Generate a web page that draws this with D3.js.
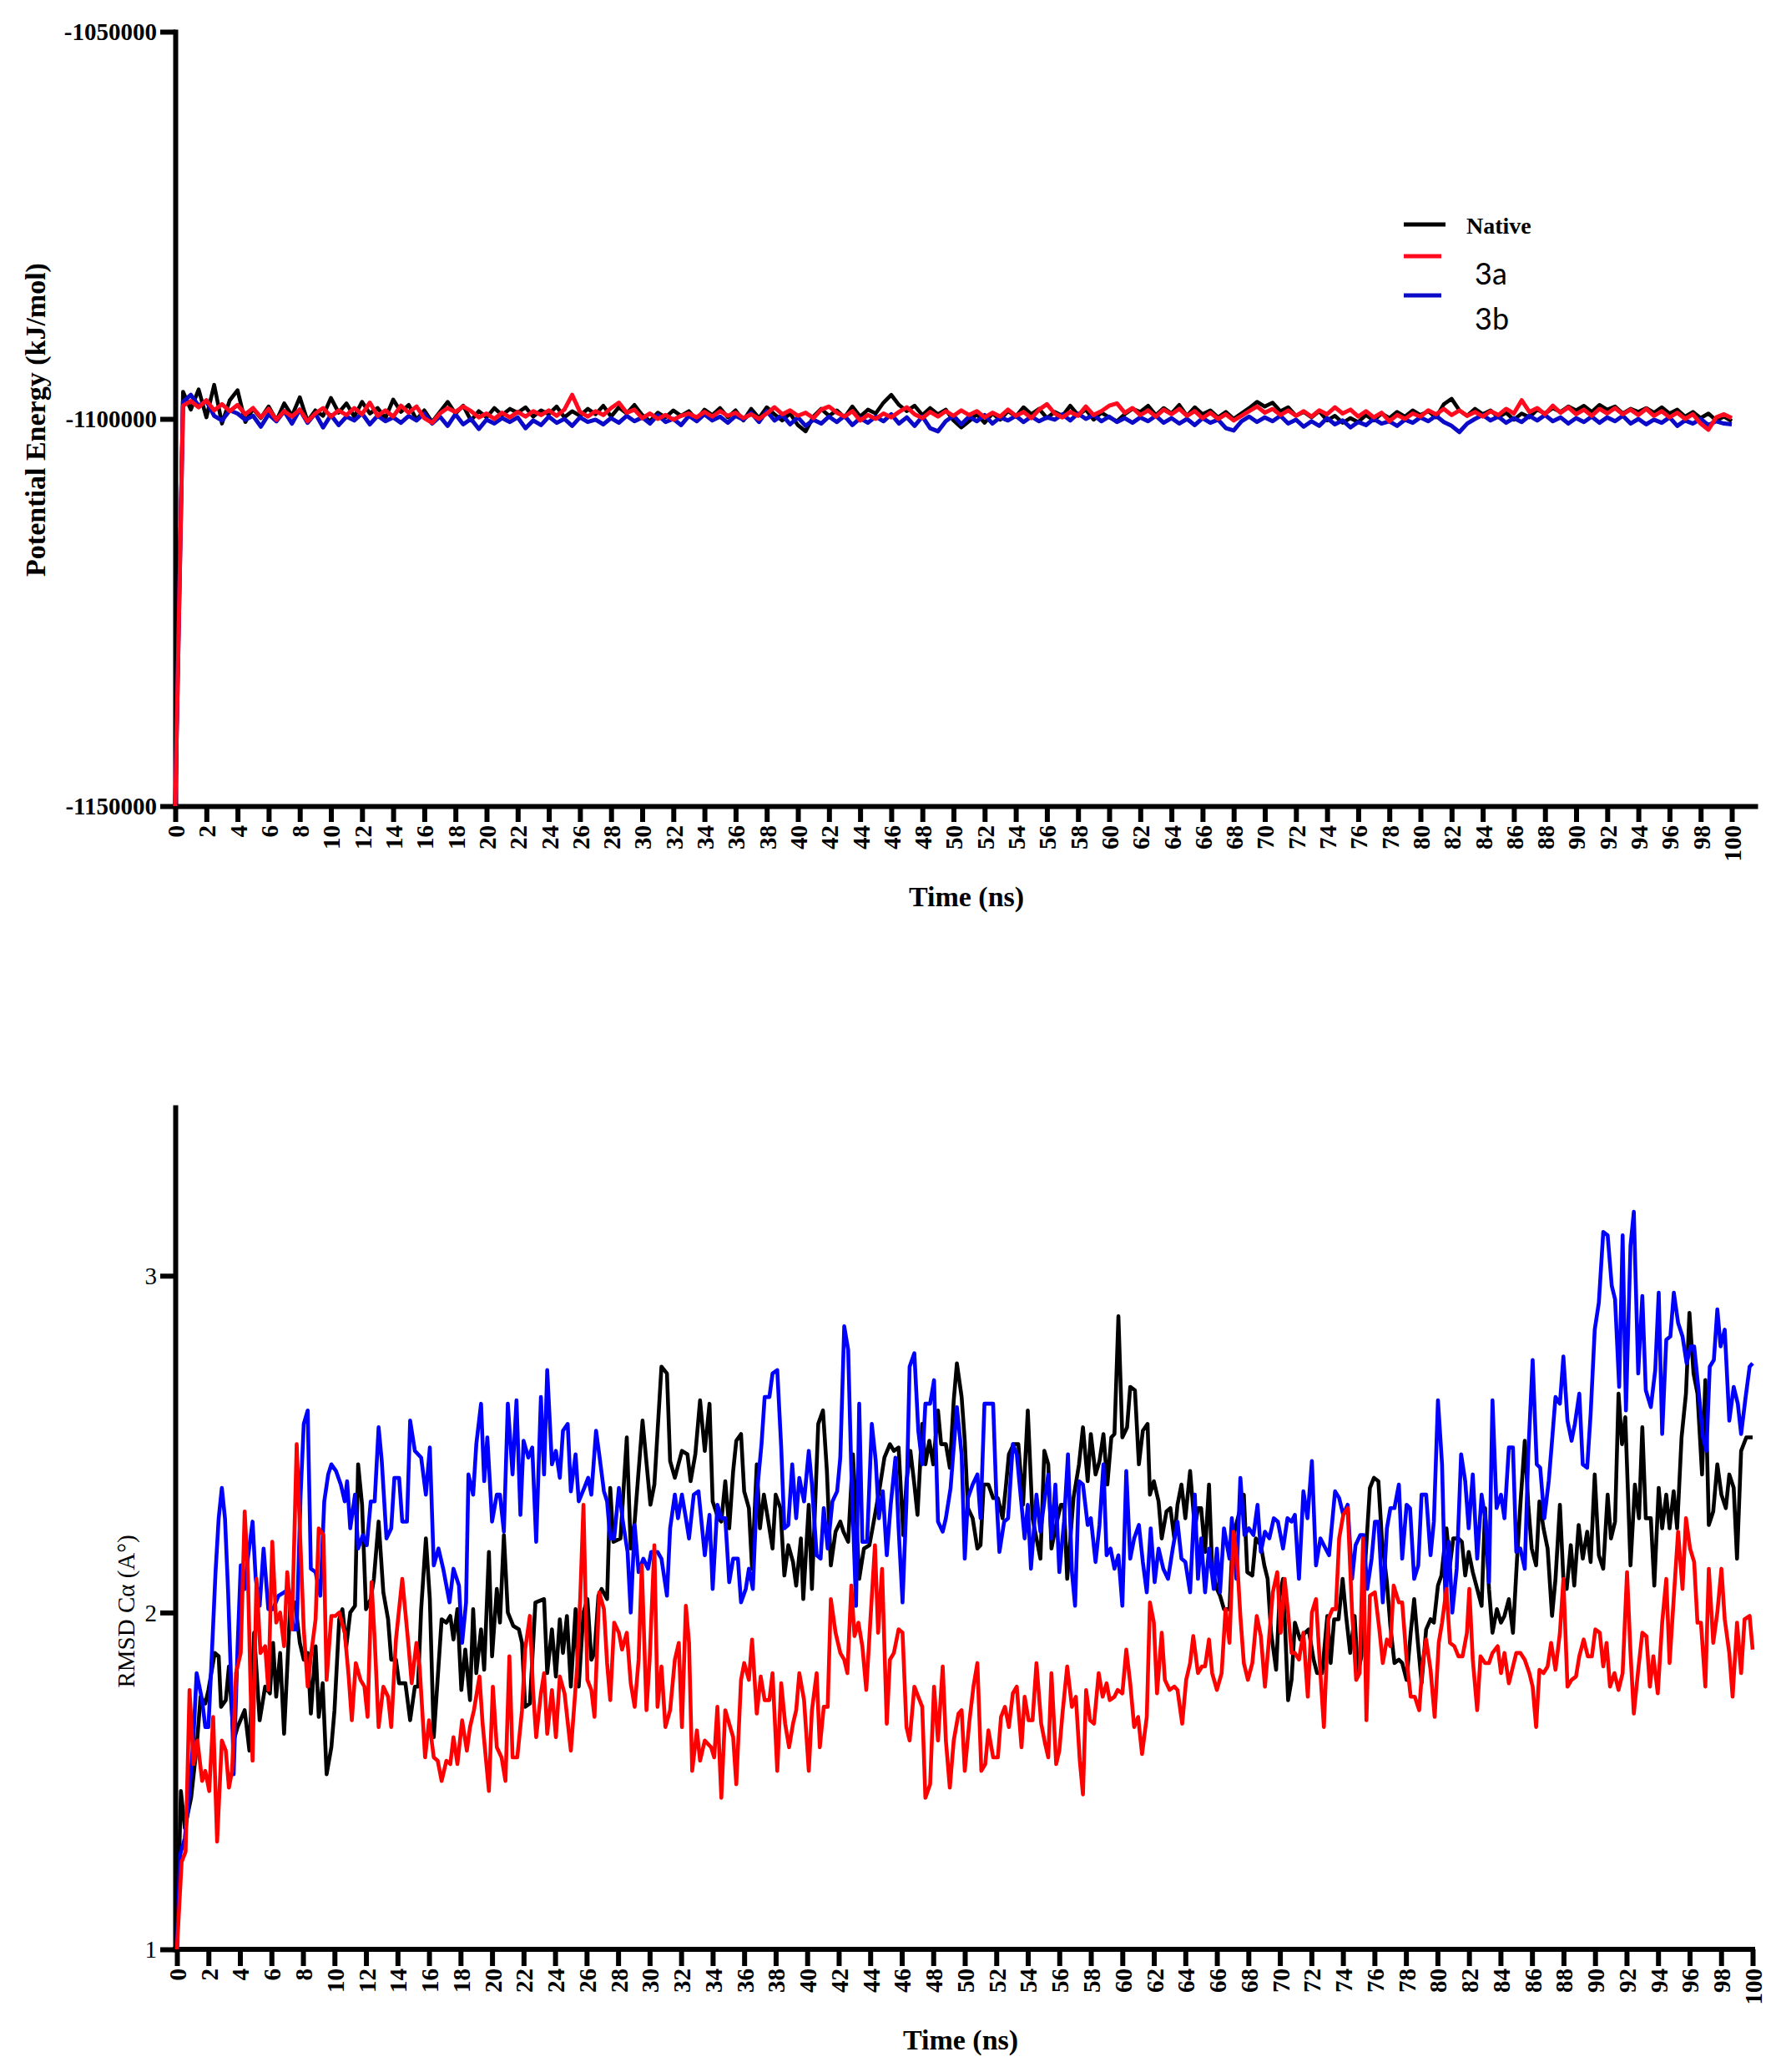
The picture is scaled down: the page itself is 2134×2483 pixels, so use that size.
<!DOCTYPE html>
<html><head><meta charset="utf-8">
<script src="https://cdn.jsdelivr.net/npm/d3@7"></script>
<style>body{margin:0;background:#fff}</style>
</head><body>
<svg id="chart" width="2134" height="2483" xmlns="http://www.w3.org/2000/svg"></svg>
<script>
// ---------- DATA ----------
const timeTicks = [0,2,4,6,8,10,12,14,16,18,20,22,24,26,28,30,32,34,36,38,40,42,44,46,48,50,52,54,56,58,60,62,64,66,68,70,72,74,76,78,80,82,84,86,88,90,92,94,96,98,100];
const energyTicks = [-1150000,-1100000,-1050000];
const rmsdTicks = [1,2,3];
const seriesNames = ["Native","3a","3b"];

// Potential energy (kJ/mol), sampled every 0.5 ns from 0 to 100 ns
const energyTime = d3.range(0, 100.25, 0.5);
const energyNative = [
-1150000,-1096500,-1098800,-1096200,-1099800,-1095600,-1100600,-1097600,-1096300,-1100400,
-1098700,-1099900,-1098400,-1100200,-1098000,-1099600,-1097200,-1100300,-1098900,-1099600,
-1097300,-1099200,-1098000,-1099700,-1097800,-1099300,-1098600,-1099900,-1097500,-1099100,
-1098200,-1100100,-1098900,-1100400,-1099100,-1097800,-1099300,-1098300,-1100200,-1099000,
-1099800,-1098600,-1099500,-1098700,-1099200,-1098500,-1099700,-1098900,-1099400,-1098400,
-1099800,-1099000,-1099600,-1098700,-1099400,-1098300,-1099700,-1098500,-1099300,-1098200,
-1099500,-1100300,-1099200,-1099800,-1098900,-1099600,-1099000,-1100100,-1098800,-1099500,
-1098600,-1099800,-1098900,-1100200,-1098700,-1099900,-1098500,-1099400,-1100200,-1099300,
-1100800,-1101600,-1099700,-1098700,-1099600,-1098900,-1099800,-1098400,-1099700,-1098800,
-1099300,-1097900,-1096900,-1098200,-1099000,-1098300,-1099500,-1098600,-1099400,-1098800,
-1100200,-1101100,-1100300,-1099400,-1100500,-1099300,-1100100,-1099000,-1099700,-1098500,
-1099400,-1098700,-1099900,-1099100,-1099600,-1098300,-1099500,-1098800,-1100100,-1099200,
-1099800,-1100300,-1099400,-1098700,-1099100,-1098300,-1099500,-1098600,-1099300,-1098200,
-1099600,-1098500,-1099400,-1098900,-1099800,-1099100,-1100000,-1099300,-1098600,-1097800,
-1098400,-1097900,-1099000,-1098500,-1099600,-1099100,-1099800,-1099000,-1100200,-1099600,
-1100500,-1099900,-1100400,-1099500,-1100200,-1099300,-1099900,-1099100,-1099700,-1098900,
-1099500,-1099000,-1099800,-1098100,-1097400,-1098900,-1099600,-1098700,-1099400,-1098900,
-1099800,-1099200,-1100100,-1099300,-1099800,-1098800,-1099300,-1098600,-1099100,-1098400,
-1098900,-1098300,-1099100,-1098200,-1098800,-1098400,-1099300,-1098700,-1099100,-1098600,
-1099200,-1098500,-1099300,-1098800,-1099700,-1099100,-1099900,-1099300,-1100200,-1099700,
-1100300];
const energy3a = [
-1150000,-1098300,-1097700,-1098500,-1097600,-1098900,-1098100,-1099000,-1098200,-1099400,
-1098600,-1099800,-1098700,-1100100,-1099000,-1099700,-1098800,-1100300,-1099300,-1098600,
-1099700,-1098900,-1099500,-1098600,-1099400,-1097900,-1099600,-1098900,-1099700,-1098300,
-1099200,-1098400,-1099900,-1100500,-1099300,-1098600,-1099100,-1098400,-1099000,-1099800,
-1099300,-1100000,-1099200,-1099800,-1099100,-1099700,-1099000,-1099500,-1098900,-1099600,
-1098800,-1096900,-1099100,-1099700,-1099000,-1099500,-1098600,-1097900,-1099200,-1098800,
-1099900,-1099300,-1100000,-1099500,-1100100,-1099600,-1099300,-1099800,-1099100,-1099700,
-1099000,-1099600,-1099200,-1099900,-1099400,-1100000,-1099300,-1098500,-1099400,-1098900,
-1099600,-1099200,-1099900,-1098800,-1098400,-1099200,-1099700,-1099000,-1100200,-1099500,
-1100000,-1099300,-1099800,-1099100,-1098500,-1099400,-1099900,-1099100,-1099700,-1099000,
-1099600,-1098900,-1099500,-1099000,-1099800,-1099200,-1099700,-1098800,-1099600,-1099100,
-1099900,-1098800,-1098100,-1099300,-1099800,-1099100,-1099600,-1098400,-1099500,-1099000,
-1098300,-1098000,-1099200,-1098600,-1099500,-1098900,-1099700,-1098800,-1099400,-1098700,
-1099600,-1099000,-1099900,-1099200,-1100000,-1099400,-1100200,-1099600,-1099000,-1098400,
-1099200,-1098700,-1099500,-1098900,-1099600,-1099000,-1099700,-1098900,-1099400,-1098500,
-1099300,-1098800,-1099700,-1099000,-1099800,-1099200,-1100300,-1099500,-1100000,-1099300,
-1099700,-1098900,-1099400,-1098700,-1099500,-1098900,-1099600,-1099100,-1099700,-1099000,
-1099500,-1098700,-1099300,-1097600,-1099100,-1098600,-1099400,-1098300,-1099200,-1098500,
-1099400,-1098800,-1099600,-1098700,-1099300,-1098600,-1099400,-1098800,-1099500,-1098700,
-1099600,-1099000,-1099800,-1099200,-1100000,-1099400,-1100600,-1101400,-1099800,-1099400,
-1099900];
const energy3b = [
-1150000,-1097800,-1096900,-1098300,-1097700,-1099600,-1100200,-1098900,-1099300,-1100100,
-1099600,-1101000,-1099400,-1100300,-1099000,-1100600,-1098800,-1100500,-1099300,-1101100,
-1099500,-1100800,-1099700,-1100200,-1099300,-1100700,-1099600,-1100300,-1099800,-1100500,
-1099600,-1100200,-1099300,-1100600,-1099700,-1100900,-1099400,-1100700,-1100000,-1101300,
-1100100,-1100600,-1099900,-1100400,-1099800,-1101200,-1100200,-1100800,-1099700,-1100500,
-1100000,-1100900,-1099800,-1100400,-1100100,-1100700,-1099900,-1100500,-1099600,-1100300,
-1099800,-1100600,-1099500,-1100400,-1100000,-1100800,-1099600,-1100300,-1099400,-1100200,
-1099700,-1100500,-1099600,-1100100,-1099200,-1100400,-1099000,-1100200,-1099500,-1100700,
-1099800,-1100900,-1100100,-1100600,-1099700,-1100400,-1099600,-1100800,-1099900,-1100500,
-1099700,-1100300,-1099400,-1100600,-1099800,-1100900,-1099700,-1101200,-1101600,-1100300,
-1099600,-1100700,-1099700,-1100300,-1099500,-1100600,-1099800,-1100200,-1099600,-1100400,
-1099700,-1100300,-1099800,-1100100,-1099400,-1100200,-1099300,-1100000,-1099500,-1100300,
-1099700,-1100400,-1099900,-1100500,-1099800,-1100300,-1099600,-1100500,-1099900,-1100600,
-1100000,-1100800,-1099900,-1100500,-1100100,-1101200,-1101500,-1100300,-1099700,-1100400,
-1099800,-1100300,-1099600,-1100600,-1100100,-1101000,-1100300,-1100900,-1099900,-1100700,
-1100200,-1101100,-1100400,-1100800,-1100000,-1100600,-1100300,-1100900,-1100100,-1100500,
-1099800,-1100300,-1099600,-1100400,-1100900,-1101700,-1100600,-1100000,-1099500,-1100200,
-1099700,-1100500,-1099900,-1100400,-1099600,-1100200,-1099500,-1100300,-1099800,-1100600,
-1099900,-1100400,-1099700,-1100500,-1099800,-1100300,-1099600,-1100600,-1100000,-1100700,
-1100100,-1100500,-1099800,-1100900,-1100200,-1100600,-1100000,-1100800,-1100300,-1100600,
-1100700];

// RMSD C-alpha (Å): [time ns, rmsd]
const rmsdNative = [[0,1.0],[0.25,1.47],[0.5,1.36],[0.9,1.45],[1.25,1.6],[1.5,1.75],[1.8,1.73],[2.0,1.77],[2.4,1.88],[2.65,1.87],[2.8,1.72],[3.1,1.74],[3.3,1.84],[3.6,1.62],[3.85,1.66],[4.3,1.71],[4.6,1.59],[4.9,1.94],[5.25,1.68],[5.6,1.78],[5.9,1.76],[6.1,1.91],[6.3,1.75],[6.55,1.88],[6.8,1.64],[7.2,2.03],[7.5,2.03],[7.8,1.91],[8.05,1.86],[8.3,1.88],[8.5,1.70],[8.8,1.90],[9.0,1.69],[9.25,1.79],[9.5,1.52],[9.8,1.60],[10.0,1.71],[10.3,1.98],[10.5,2.01],[10.75,1.90],[11.0,2.0],[11.3,2.02],[11.5,2.44],[11.75,2.32],[12.0,2.01],[12.3,2.04],[12.5,2.10],[12.8,2.27],[13.1,2.06],[13.4,1.98],[13.6,1.86],[13.9,1.86],[14.1,1.79],[14.5,1.79],[14.8,1.68],[15.1,1.78],[15.3,1.78],[15.5,2.01],[15.8,2.22],[16.05,2.04],[16.3,1.63],[16.6,1.84],[16.8,1.98],[17.1,1.97],[17.35,1.99],[17.55,1.92],[17.8,2.01],[18.05,1.77],[18.3,1.89],[18.6,1.74],[18.8,2.01],[19.0,1.82],[19.3,1.95],[19.5,1.83],[19.8,2.18],[20.0,1.87],[20.3,2.07],[20.5,1.97],[20.75,2.23],[21.0,2.0],[21.35,1.96],[21.7,1.95],[21.9,1.91],[22.1,1.72],[22.4,1.73],[22.75,2.03],[23.3,2.04],[23.5,1.82],[23.8,1.95],[24.05,1.81],[24.3,1.98],[24.5,1.88],[24.75,1.99],[25.0,1.78],[25.3,2.01],[25.5,1.78],[25.8,2.0],[26.05,2.04],[26.3,1.86],[26.5,1.88],[26.75,2.05],[26.95,2.07],[27.3,2.04],[27.5,2.37],[27.7,2.21],[28.15,2.22],[28.55,2.52],[28.8,2.19],[29.05,2.27],[29.55,2.57],[30.05,2.32],[30.3,2.38],[30.75,2.73],[31.1,2.71],[31.3,2.45],[31.6,2.40],[32.05,2.48],[32.4,2.47],[32.6,2.39],[32.9,2.47],[33.2,2.63],[33.5,2.48],[33.8,2.62],[34.0,2.33],[34.35,2.28],[34.55,2.27],[34.8,2.39],[35.05,2.25],[35.3,2.42],[35.5,2.51],[35.8,2.53],[36.0,2.36],[36.3,2.31],[36.5,2.13],[36.8,2.44],[37.0,2.25],[37.25,2.35],[37.5,2.28],[37.8,2.19],[38.0,2.35],[38.3,2.31],[38.55,2.11],[38.8,2.20],[39.1,2.15],[39.3,2.08],[39.6,2.22],[39.75,2.04],[40.1,2.32],[40.3,2.07],[40.7,2.56],[41.0,2.60],[41.25,2.42],[41.5,2.14],[41.8,2.24],[42.1,2.27],[42.3,2.24],[42.6,2.21],[42.9,2.47],[43.1,2.30],[43.3,2.10],[43.6,2.19],[43.95,2.20],[44.3,2.29],[44.6,2.37],[44.9,2.46],[45.25,2.50],[45.5,2.48],[45.8,2.49],[46.1,2.23],[46.3,2.39],[46.55,2.48],[46.8,2.38],[47.0,2.29],[47.3,2.56],[47.5,2.44],[47.75,2.51],[48.0,2.44],[48.3,2.60],[48.5,2.50],[48.8,2.50],[49.05,2.43],[49.3,2.63],[49.5,2.74],[49.8,2.64],[50.0,2.51],[50.2,2.31],[50.5,2.28],[50.8,2.19],[51.0,2.20],[51.2,2.38],[51.5,2.38],[51.8,2.34],[52.1,2.34],[52.4,2.28],[52.6,2.37],[52.8,2.47],[53.1,2.50],[53.4,2.50],[53.7,2.32],[54.0,2.60],[54.3,2.28],[54.55,2.22],[54.8,2.16],[55.05,2.48],[55.3,2.44],[55.5,2.19],[55.75,2.25],[56.1,2.32],[56.3,2.32],[56.5,2.10],[56.7,2.22],[56.9,2.34],[57.25,2.44],[57.5,2.55],[57.8,2.39],[58.0,2.53],[58.3,2.41],[58.55,2.45],[58.8,2.53],[59.05,2.38],[59.3,2.52],[59.5,2.53],[59.75,2.88],[60.0,2.52],[60.3,2.55],[60.5,2.67],[60.8,2.66],[61.05,2.44],[61.3,2.54],[61.6,2.56],[61.75,2.35],[62.0,2.39],[62.3,2.33],[62.5,2.22],[62.8,2.30],[63.05,2.31],[63.3,2.22],[63.5,2.32],[63.75,2.38],[64.0,2.28],[64.3,2.42],[64.6,2.25],[64.8,2.31],[65.0,2.31],[65.25,2.18],[65.5,2.38],[65.7,2.13],[66.0,2.07],[66.2,2.05],[66.45,2.01],[66.8,2.01],[67.0,2.22],[67.71,2.35],[67.93,2.12],[68.25,2.11],[68.47,2.22],[68.79,2.20],[69.01,2.14],[69.22,2.10],[69.44,1.94],[69.76,1.83],[69.98,2.05],[70.2,2.10],[70.52,1.74],[70.74,1.80],[70.95,1.97],[71.28,1.92],[71.6,1.94],[71.82,1.95],[72.14,1.86],[72.36,1.82],[72.68,1.82],[73.01,1.99],[73.22,1.85],[73.44,1.98],[73.72,1.98],[73.98,2.10],[74.2,1.99],[74.46,1.88],[74.74,1.99],[74.95,1.82],[75.17,1.87],[75.39,2.13],[75.71,2.37],[75.97,2.40],[76.25,2.39],[76.47,2.22],[76.79,2.09],[77.01,1.96],[77.27,1.85],[77.55,1.86],[77.76,1.85],[78.04,1.80],[78.3,1.94],[78.52,2.04],[78.74,1.92],[78.99,1.79],[79.28,1.95],[79.56,1.98],[79.77,1.97],[80.03,2.08],[80.25,2.11],[80.57,2.25],[80.79,2.14],[81.0,2.22],[81.33,2.22],[81.55,2.21],[81.76,2.11],[81.98,2.18],[82.24,2.12],[82.52,2.07],[82.8,2.02],[83.02,2.31],[83.27,2.07],[83.49,1.94],[83.77,2.01],[84.03,1.97],[84.25,1.99],[84.53,2.04],[84.79,1.94],[85.05,2.16],[85.26,2.32],[85.54,2.51],[85.76,2.32],[85.98,2.19],[86.26,2.14],[86.47,2.33],[86.73,2.25],[86.99,2.19],[87.27,1.99],[87.49,2.10],[87.77,2.32],[87.99,2.10],[88.2,2.07],[88.46,2.20],[88.68,2.08],[88.96,2.26],[89.22,2.16],[89.5,2.24],[89.72,2.15],[89.98,2.41],[90.24,2.17],[90.52,2.13],[90.8,2.35],[91.01,2.22],[91.27,2.27],[91.49,2.65],[91.71,2.50],[91.92,2.58],[92.25,2.14],[92.53,2.38],[92.79,2.28],[93.0,2.55],[93.22,2.28],[93.54,2.28],[93.76,2.08],[94.04,2.37],[94.26,2.25],[94.52,2.35],[94.73,2.25],[94.99,2.36],[95.21,2.25],[95.49,2.52],[95.77,2.65],[95.99,2.89],[96.25,2.71],[96.5,2.65],[96.79,2.41],[97.0,2.69],[97.22,2.26],[97.5,2.30],[97.76,2.44],[98.02,2.35],[98.3,2.31],[98.52,2.41],[98.8,2.37],[99.01,2.16],[99.27,2.48],[99.6,2.52],[100,2.52]];

const rmsd3a = [[0,1.0],[0.3,1.26],[0.55,1.29],[0.8,1.77],[1.05,1.55],[1.3,1.62],[1.6,1.5],[1.8,1.53],[2.05,1.47],[2.3,1.69],[2.55,1.32],[2.85,1.62],[3.1,1.59],[3.3,1.48],[3.5,1.53],[3.75,1.82],[4.05,1.88],[4.3,2.3],[4.5,2.12],[4.65,1.82],[4.8,1.56],[5.05,2.1],[5.3,1.88],[5.6,1.9],[5.8,1.77],[6.05,2.21],[6.3,1.97],[6.55,2.0],[6.8,1.9],[7.0,2.12],[7.3,1.95],[7.6,2.5],[7.85,2.19],[8.05,1.95],[8.3,1.78],[8.5,1.87],[8.8,1.98],[9.0,2.25],[9.3,2.23],[9.5,1.8],[9.8,1.99],[10.05,1.99],[10.3,2.0],[10.65,1.94],[10.9,1.81],[11.1,1.68],[11.35,1.85],[11.65,1.8],[11.9,1.78],[12.1,1.69],[12.35,2.09],[12.55,1.92],[12.8,1.66],[13.1,1.78],[13.4,1.75],[13.6,1.66],[13.9,1.92],[14.3,2.1],[14.7,1.9],[14.9,1.79],[15.2,1.91],[15.4,1.84],[15.75,1.57],[16.0,1.68],[16.3,1.57],[16.55,1.56],[16.8,1.5],[17.1,1.56],[17.35,1.55],[17.55,1.63],[17.8,1.55],[18.1,1.68],[18.4,1.59],[18.6,1.66],[18.85,1.71],[19.2,1.81],[19.4,1.67],[19.8,1.47],[20.05,1.78],[20.3,1.6],[20.6,1.57],[20.85,1.5],[21.1,1.87],[21.3,1.57],[21.6,1.57],[21.9,1.71],[22.1,1.89],[22.4,1.99],[22.6,1.77],[22.8,1.63],[23.1,1.76],[23.3,1.82],[23.5,1.64],[23.8,1.77],[24.05,1.63],[24.3,1.81],[24.6,1.76],[25.0,1.59],[25.4,1.84],[25.6,2.05],[25.8,2.32],[26.05,1.8],[26.3,1.77],[26.5,1.69],[26.8,2.06],[27.1,2.01],[27.3,1.85],[27.5,1.74],[27.75,1.97],[28.05,1.94],[28.25,1.89],[28.55,1.94],[28.8,1.79],[29.05,1.72],[29.3,1.86],[29.5,2.14],[29.8,1.71],[30.0,1.86],[30.3,2.2],[30.5,1.72],[30.75,1.84],[31.0,1.66],[31.3,1.71],[31.6,1.86],[31.85,1.91],[32.05,1.66],[32.3,2.02],[32.5,1.91],[32.7,1.53],[33.0,1.65],[33.2,1.56],[33.5,1.62],[33.9,1.6],[34.1,1.57],[34.3,1.72],[34.55,1.45],[34.8,1.71],[35.05,1.67],[35.3,1.63],[35.5,1.49],[35.8,1.8],[36.0,1.85],[36.3,1.8],[36.5,1.92],[36.8,1.7],[37.05,1.81],[37.3,1.74],[37.6,1.74],[37.8,1.82],[38.1,1.53],[38.35,1.79],[38.6,1.67],[38.85,1.6],[39.1,1.67],[39.3,1.71],[39.5,1.82],[39.8,1.74],[40.1,1.53],[40.3,1.71],[40.6,1.82],[40.8,1.6],[41.05,1.72],[41.3,1.72],[41.5,2.04],[41.8,1.94],[42.1,1.88],[42.35,1.86],[42.55,1.82],[42.8,2.08],[43.0,1.93],[43.25,1.97],[43.5,1.9],[43.75,1.77],[44.0,1.97],[44.3,2.2],[44.5,1.94],[44.75,2.13],[45.05,1.67],[45.25,1.86],[45.5,1.88],[45.8,1.95],[46.05,1.94],[46.3,1.66],[46.5,1.62],[46.8,1.78],[47.05,1.75],[47.3,1.72],[47.5,1.45],[47.8,1.49],[48.05,1.78],[48.3,1.62],[48.6,1.84],[48.8,1.62],[49.05,1.48],[49.3,1.62],[49.6,1.7],[49.8,1.71],[50.0,1.53],[50.3,1.68],[50.55,1.78],[50.8,1.85],[51.05,1.53],[51.3,1.55],[51.5,1.65],[51.8,1.57],[52.1,1.57],[52.3,1.69],[52.55,1.72],[52.8,1.66],[53.05,1.76],[53.3,1.78],[53.6,1.6],[53.8,1.75],[54.05,1.68],[54.3,1.68],[54.55,1.85],[54.85,1.67],[55.1,1.61],[55.3,1.57],[55.5,1.82],[55.8,1.55],[56.0,1.59],[56.2,1.7],[56.5,1.84],[56.8,1.72],[57.05,1.75],[57.3,1.56],[57.5,1.46],[57.7,1.77],[57.95,1.68],[58.2,1.67],[58.5,1.82],[58.75,1.75],[59.0,1.79],[59.2,1.74],[59.5,1.75],[59.7,1.77],[60.0,1.76],[60.25,1.89],[60.5,1.79],[60.75,1.66],[61.0,1.69],[61.25,1.58],[61.55,1.69],[61.75,2.03],[62.0,1.97],[62.2,1.76],[62.5,1.94],[62.7,1.8],[63.0,1.77],[63.3,1.78],[63.5,1.77],[63.8,1.67],[64.05,1.8],[64.3,1.85],[64.5,1.93],[64.8,1.82],[65.05,1.84],[65.25,1.84],[65.5,1.92],[65.7,1.82],[66.0,1.77],[66.3,1.82],[66.55,2.01],[66.8,1.91],[67.06,2.24],[67.28,2.16],[67.49,1.99],[67.71,1.85],[67.97,1.80],[68.25,1.85],[68.53,1.99],[68.79,1.93],[69.05,1.78],[69.27,1.90],[69.55,2.06],[69.83,2.12],[70.05,1.94],[70.3,2.10],[70.52,2.00],[70.74,1.88],[70.95,1.88],[71.21,1.86],[71.49,1.94],[71.77,1.75],[72.03,2.00],[72.29,2.04],[72.57,1.82],[72.79,1.66],[73.07,1.98],[73.33,2.01],[73.55,2.01],[73.76,2.22],[74.02,2.29],[74.3,2.31],[74.58,2.00],[74.84,1.80],[75.06,1.82],[75.28,2.22],[75.49,1.68],[75.71,2.05],[76.03,2.06],[76.31,1.95],[76.53,1.85],[76.79,1.92],[77.01,1.90],[77.22,2.08],[77.55,2.03],[77.76,2.03],[78.04,1.86],[78.3,1.75],[78.56,1.75],[78.84,1.71],[79.06,1.85],[79.28,1.92],[79.56,1.83],[79.82,1.69],[80.08,1.91],[80.29,1.97],[80.57,2.07],[80.79,1.91],[81.07,1.90],[81.33,1.87],[81.59,1.87],[81.87,1.94],[82.02,2.07],[82.24,1.86],[82.52,1.71],[82.73,1.87],[83.02,1.85],[83.27,1.85],[83.49,1.88],[83.82,1.90],[84.03,1.82],[84.25,1.88],[84.53,1.79],[84.79,1.84],[85.0,1.88],[85.26,1.88],[85.54,1.86],[85.83,1.82],[86.04,1.78],[86.26,1.66],[86.47,1.83],[86.73,1.82],[86.99,1.84],[87.21,1.91],[87.49,1.83],[87.77,1.94],[87.99,2.10],[88.25,1.78],[88.51,1.80],[88.79,1.81],[89.0,1.87],[89.28,1.92],[89.54,1.87],[89.8,1.87],[90.02,1.95],[90.3,1.94],[90.52,1.84],[90.73,1.91],[90.95,1.78],[91.23,1.82],[91.49,1.77],[91.75,1.82],[92.03,2.12],[92.25,1.88],[92.46,1.70],[92.74,1.83],[93.0,1.94],[93.26,1.93],[93.48,1.78],[93.7,1.87],[93.98,1.76],[94.26,1.97],[94.52,2.10],[94.73,1.85],[94.99,2.04],[95.27,2.24],[95.55,2.07],[95.77,2.28],[96.03,2.19],[96.29,2.15],[96.5,1.97],[96.72,1.97],[97.0,1.78],[97.22,2.13],[97.5,1.91],[97.76,2.00],[98.02,2.13],[98.23,1.98],[98.52,1.88],[98.73,1.75],[99.01,1.97],[99.27,1.82],[99.49,1.98],[99.81,1.99],[100,1.89]];

const rmsd3b = [[0,1.0],[0.2,1.28],[0.5,1.33],[0.8,1.47],[1.05,1.63],[1.25,1.82],[1.6,1.74],[1.8,1.66],[2.0,1.66],[2.2,1.86],[2.45,2.12],[2.65,2.28],[2.85,2.37],[3.05,2.28],[3.25,2.06],[3.5,1.71],[3.6,1.52],[3.85,1.9],[4.05,2.14],[4.3,2.07],[4.5,2.16],[4.8,2.27],[5.0,2.1],[5.25,2.02],[5.5,2.19],[5.8,2.01],[6.1,2.01],[6.45,2.05],[6.8,2.06],[7.1,2.07],[7.4,1.95],[7.6,1.95],[7.85,2.35],[8.05,2.56],[8.3,2.6],[8.5,2.13],[8.8,2.12],[9.1,2.05],[9.35,2.33],[9.6,2.41],[9.8,2.44],[10.1,2.42],[10.4,2.38],[10.65,2.33],[10.8,2.39],[11.0,2.25],[11.3,2.35],[11.5,2.19],[11.8,2.23],[12.05,2.2],[12.3,2.33],[12.55,2.33],[12.8,2.55],[13.0,2.45],[13.3,2.22],[13.6,2.25],[13.8,2.4],[14.1,2.4],[14.3,2.27],[14.6,2.27],[14.8,2.57],[15.1,2.48],[15.5,2.46],[15.8,2.35],[16.05,2.49],[16.3,2.14],[16.6,2.19],[16.9,2.13],[17.3,2.03],[17.55,2.13],[17.9,2.08],[18.1,1.91],[18.35,2.03],[18.5,2.41],[18.8,2.35],[19.0,2.5],[19.3,2.62],[19.5,2.39],[19.7,2.52],[20.0,2.27],[20.3,2.35],[20.5,2.35],[20.75,2.24],[21.0,2.62],[21.3,2.41],[21.55,2.63],[21.8,2.29],[22.0,2.51],[22.3,2.46],[22.55,2.49],[22.8,2.21],[23.1,2.64],[23.3,2.41],[23.5,2.72],[23.8,2.44],[24.05,2.48],[24.3,2.4],[24.5,2.54],[24.8,2.56],[25.0,2.36],[25.3,2.47],[25.5,2.33],[25.85,2.37],[26.1,2.4],[26.3,2.35],[26.6,2.54],[26.8,2.47],[27.1,2.36],[27.3,2.33],[27.5,2.22],[27.75,2.22],[28.05,2.37],[28.3,2.27],[28.6,2.18],[28.8,2.0],[29.05,2.26],[29.3,2.12],[29.6,2.16],[29.9,2.13],[30.1,2.18],[30.5,2.18],[30.75,2.16],[31.1,2.05],[31.3,2.25],[31.6,2.35],[31.8,2.28],[32.05,2.35],[32.3,2.28],[32.5,2.22],[32.8,2.35],[33.1,2.36],[33.5,2.17],[33.8,2.29],[34.0,2.07],[34.3,2.32],[34.55,2.28],[34.8,2.28],[35.05,2.09],[35.3,2.16],[35.6,2.16],[35.8,2.03],[36.1,2.07],[36.3,2.13],[36.55,2.07],[36.8,2.35],[37.1,2.5],[37.3,2.64],[37.6,2.64],[37.8,2.71],[38.1,2.72],[38.35,2.49],[38.55,2.25],[38.8,2.26],[39.05,2.44],[39.3,2.28],[39.5,2.4],[39.8,2.33],[40.1,2.48],[40.3,2.38],[40.6,2.17],[40.85,2.16],[41.05,2.31],[41.3,2.19],[41.6,2.33],[41.9,2.36],[42.1,2.46],[42.35,2.85],[42.6,2.78],[42.8,2.42],[43.1,2.02],[43.3,2.62],[43.5,2.21],[43.8,2.21],[44.1,2.56],[44.35,2.45],[44.55,2.28],[44.8,2.36],[45.05,2.17],[45.3,2.32],[45.6,2.46],[45.8,2.25],[46.05,2.03],[46.3,2.33],[46.5,2.73],[46.8,2.77],[47.05,2.54],[47.3,2.44],[47.5,2.62],[47.8,2.62],[48.05,2.69],[48.3,2.27],[48.6,2.24],[48.8,2.28],[49.1,2.37],[49.3,2.49],[49.5,2.61],[49.8,2.47],[50.0,2.16],[50.2,2.34],[50.5,2.38],[50.8,2.41],[51.0,2.28],[51.25,2.62],[51.5,2.62],[51.8,2.62],[52.0,2.35],[52.2,2.18],[52.5,2.27],[52.75,2.28],[53.05,2.5],[53.3,2.47],[53.6,2.32],[53.8,2.22],[54.0,2.32],[54.2,2.13],[54.55,2.35],[54.8,2.24],[55.05,2.33],[55.3,2.41],[55.5,2.22],[55.75,2.38],[56.0,2.12],[56.3,2.27],[56.55,2.47],[56.8,2.12],[57.0,2.02],[57.25,2.39],[57.5,2.38],[57.8,2.26],[58.0,2.28],[58.3,2.15],[58.55,2.26],[58.8,2.44],[59.0,2.17],[59.25,2.19],[59.5,2.13],[59.75,2.17],[60.0,2.02],[60.25,2.42],[60.5,2.16],[60.75,2.22],[61.05,2.26],[61.3,2.15],[61.55,2.06],[61.8,2.25],[62.05,2.09],[62.3,2.19],[62.6,2.13],[62.9,2.1],[63.2,2.19],[63.5,2.27],[63.75,2.16],[64.0,2.15],[64.3,2.06],[64.6,2.35],[64.8,2.1],[65.0,2.22],[65.25,2.06],[65.5,2.19],[65.8,2.07],[66.0,2.19],[66.2,2.06],[66.45,2.25],[66.8,2.16],[66.95,2.28],[67.24,2.10],[67.49,2.40],[67.75,2.23],[68.03,2.25],[68.32,2.23],[68.58,2.32],[68.79,2.18],[69.05,2.24],[69.33,2.22],[69.61,2.28],[69.87,2.27],[70.2,2.19],[70.48,2.28],[70.74,2.27],[70.95,2.29],[71.21,2.10],[71.49,2.36],[71.75,2.28],[72.03,2.45],[72.29,2.14],[72.57,2.22],[72.9,2.19],[73.12,2.17],[73.5,2.36],[73.76,2.34],[74.02,2.29],[74.3,2.32],[74.58,2.10],[74.8,2.20],[75.1,2.23],[75.32,2.23],[75.54,2.07],[75.82,2.16],[76.03,2.27],[76.25,2.27],[76.53,2.03],[76.79,2.25],[77.01,2.31],[77.27,2.31],[77.55,2.38],[77.76,2.16],[78.04,2.32],[78.26,2.31],[78.52,2.10],[78.78,2.14],[78.99,2.35],[79.28,2.35],[79.56,2.17],[79.77,2.27],[80.03,2.63],[80.29,2.44],[80.51,2.02],[80.72,2.21],[80.94,2.00],[81.22,2.13],[81.5,2.47],[81.76,2.39],[81.98,2.25],[82.24,2.41],[82.52,2.16],[82.8,2.35],[83.06,2.27],[83.27,2.09],[83.49,2.63],[83.75,2.31],[84.03,2.35],[84.25,2.28],[84.53,2.49],[84.79,2.49],[85.0,2.18],[85.26,2.19],[85.54,2.13],[85.76,2.47],[86.04,2.75],[86.3,2.44],[86.52,2.43],[86.78,2.28],[87.06,2.39],[87.27,2.51],[87.49,2.64],[87.77,2.62],[87.99,2.76],[88.25,2.57],[88.51,2.51],[88.72,2.56],[89.0,2.65],[89.22,2.44],[89.5,2.43],[89.72,2.59],[89.98,2.84],[90.24,2.92],[90.52,3.13],[90.8,3.12],[91.06,2.97],[91.27,2.93],[91.53,2.67],[91.75,3.12],[91.96,2.60],[92.25,3.09],[92.46,3.19],[92.74,2.71],[93.0,2.94],[93.22,2.66],[93.54,2.61],[93.82,2.72],[94.04,2.95],[94.26,2.53],[94.52,2.81],[94.78,2.82],[95.0,2.95],[95.27,2.86],[95.55,2.82],[95.81,2.74],[96.07,2.79],[96.29,2.79],[96.57,2.66],[96.85,2.52],[97.07,2.48],[97.28,2.73],[97.54,2.75],[97.76,2.90],[97.97,2.79],[98.23,2.84],[98.52,2.57],[98.8,2.67],[99.06,2.62],[99.27,2.53],[99.53,2.63],[99.81,2.73],[100,2.74]];

// ---------- DRAWING ----------
const svg = d3.select("#chart");
const serif = "'Liberation Serif','Times New Roman',serif";
const colTop = {Native:"#000000","3a":"#ff0a1e","3b":"#0a0ac8"};
const colBot = {Native:"#000000","3a":"#ff0000","3b":"#0000ff"};

function styleAxis(g){
  g.attr("font-family", serif);
  g.selectAll(".domain").attr("stroke","#000").attr("stroke-width",6).attr("stroke-linecap","square");
  g.selectAll(".tick line").attr("stroke","#000").attr("stroke-width",6);
}
function rotateXLabels(g, off){
  g.selectAll(".tick text")
    .attr("transform","rotate(-90)")
    .attr("x",-off).attr("y",0).attr("dy","0.36em")
    .attr("text-anchor","end")
    .attr("font-size",29).attr("font-weight","bold").attr("fill","#000");
}

// ===== Top chart: Potential energy =====
const xTop = d3.scaleLinear().domain([0,101.5]).range([210,2103]);
const yTop = d3.scaleLinear().domain([-1150000,-1050000]).range([966,38]);

const gxT = svg.append("g").attr("transform","translate(0,966)")
  .call(d3.axisBottom(xTop).tickValues(timeTicks).tickSize(19).tickSizeOuter(0).tickFormat(d=>String(d)));
styleAxis(gxT); rotateXLabels(gxT, 23);

const gyT = svg.append("g").attr("transform","translate(210,0)")
  .call(d3.axisLeft(yTop).tickValues(energyTicks).tickSize(18).tickSizeOuter(0).tickPadding(4).tickFormat(d=>String(d)));
styleAxis(gyT);
gyT.selectAll(".tick text").attr("font-size",29).attr("font-weight","bold").attr("fill","#000").attr("dy","0.34em");

const lineTop = d3.line().x((d,i)=>xTop(energyTime[i])).y(d=>yTop(d));
[["Native",energyNative,4.6],["3b",energy3b,5],["3a",energy3a,5]].forEach(([n,arr,w])=>{
  svg.append("path").datum(arr).attr("d",lineTop)
    .attr("fill","none").attr("stroke",colTop[n]).attr("stroke-width",w)
    .attr("stroke-linejoin","round");
});

svg.append("text").attr("x",1158).attr("y",1086).attr("text-anchor","middle")
  .attr("font-family",serif).attr("font-weight","bold").attr("font-size",34).text("Time (ns)");
svg.append("text").attr("transform","translate(54,503) rotate(-90)").attr("text-anchor","middle")
  .attr("font-family",serif).attr("font-weight","bold").attr("font-size",34).text("Potential Energy (kJ/mol)");

// Legend
const legend = [
  {name:seriesNames[0], ly:269, x2:1732, tx:1757, ty:280, font:serif, weight:"bold", size:28},
  {name:seriesNames[1], ly:307, x2:1727, tx:1767, ty:341, font:"Lato,'Open Sans',sans-serif", weight:"normal", size:36},
  {name:seriesNames[2], ly:354, x2:1727, tx:1767, ty:395, font:"Lato,'Open Sans',sans-serif", weight:"normal", size:36}
];
legend.forEach(l=>{
  svg.append("line").attr("x1",1682).attr("x2",l.x2).attr("y1",l.ly).attr("y2",l.ly)
    .attr("stroke",colTop[l.name]).attr("stroke-width",5);
  svg.append("text").attr("x",l.tx).attr("y",l.ty).attr("font-family",l.font)
    .attr("font-weight",l.weight).attr("font-size",l.size).text(l.name);
});

// ===== Bottom chart: RMSD =====
const xBot = d3.scaleLinear().domain([0,100]).range([212,2100]);
const yBot = d3.scaleLinear().domain([1,3.5]).range([2336,1327]);

const gxB = svg.append("g").attr("transform","translate(0,2336)")
  .call(d3.axisBottom(xBot).tickValues(timeTicks).tickSize(20).tickSizeOuter(0).tickFormat(d=>String(d)));
styleAxis(gxB); rotateXLabels(gxB, 23);
gxB.select(".domain").attr("d","M210,0H2100");

const gyB = svg.append("g").attr("transform","translate(210,0)")
  .call(d3.axisLeft(yBot).tickValues(rmsdTicks).tickSize(18).tickSizeOuter(0).tickPadding(4).tickFormat(d=>String(d)));
styleAxis(gyB);
gyB.selectAll(".tick text").attr("font-size",29).attr("font-weight","normal").attr("fill","#000").attr("dy","0.34em");

const lineBot = d3.line().x(d=>xBot(d[0])).y(d=>yBot(d[1]));
[["Native",rmsdNative],["3b",rmsd3b],["3a",rmsd3a]].forEach(([n,arr])=>{
  svg.append("path").datum(arr).attr("d",lineBot)
    .attr("fill","none").attr("stroke",colBot[n]).attr("stroke-width",4.6)
    .attr("stroke-linejoin","round");
});

svg.append("text").attr("x",1151).attr("y",2456).attr("text-anchor","middle")
  .attr("font-family",serif).attr("font-weight","bold").attr("font-size",34).text("Time (ns)");
svg.append("text").attr("transform","translate(161,1931) rotate(-90)").attr("text-anchor","middle")
  .attr("font-family",serif).attr("font-size",29).text("RMSD Cα (A°)");
</script>
</body></html>
